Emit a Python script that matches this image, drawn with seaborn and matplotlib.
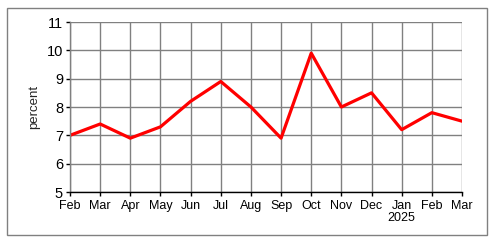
import matplotlib
matplotlib.use("Agg")
import matplotlib.pyplot as plt
from matplotlib.patches import Rectangle
import seaborn as sns
import pandas as pd

months = ["Feb", "Mar", "Apr", "May", "Jun", "Jul", "Aug", "Sep", "Oct", "Nov", "Dec", "Jan\n2025", "Feb", "Mar"]
values = [7.0, 7.4, 6.9, 7.3, 8.2, 8.9, 8.0, 6.9, 9.9, 8.0, 8.5, 7.2, 7.8, 7.5]
yticks = [5, 6, 7, 8, 9, 10, 11]

sns.set_style("white")
plt.rcParams["font.family"] = ["Liberation Sans", "DejaVu Sans"]

df = pd.DataFrame({"pos": list(range(len(values))), "value": values})

fig = plt.figure(figsize=(5.04, 2.47), dpi=100)
fig.patch.set_facecolor("white")
ax = fig.add_axes([70/504, 1-192/247, (462-70)/504, (192-22)/247])

sns.lineplot(data=df, x="pos", y="value", ax=ax, color="#ff0000", linewidth=2.3)

ax.set_xlim(0, len(values)-1)
ax.set_ylim(5, 11)
ax.set_xticks(range(len(values)))
ax.set_xticklabels(months, fontsize=9, color="#000000", linespacing=1.0)
ax.set_yticks(yticks)
ax.set_yticklabels([str(t) for t in yticks], fontsize=10.5, color="#000000")
ax.set_xlabel("")
ax.set_ylabel("percent", fontsize=9.5, labelpad=5)

ax.grid(True, color="#808080", linewidth=1.0)
ax.set_axisbelow(True)
for s in ["top", "right"]:
    ax.spines[s].set_visible(False)
ax.spines["left"].set_color("#808080")
ax.spines["left"].set_linewidth(1.0)
ax.spines["bottom"].set_color("#000000")
ax.spines["bottom"].set_linewidth(1.0)
ax.tick_params(axis="x", direction="out", length=3, width=1, color="#000000", pad=3, bottom=True)
ax.tick_params(axis="y", direction="out", length=3, width=1, color="#000000", pad=2, left=True)

fig.patches.append(Rectangle((7/504, 1-235/247), (487-7)/504, (235-8)/247,
                             transform=fig.transFigure, fill=False,
                             edgecolor="#808080", linewidth=1.0))

fig.savefig("out.png", dpi=100)
